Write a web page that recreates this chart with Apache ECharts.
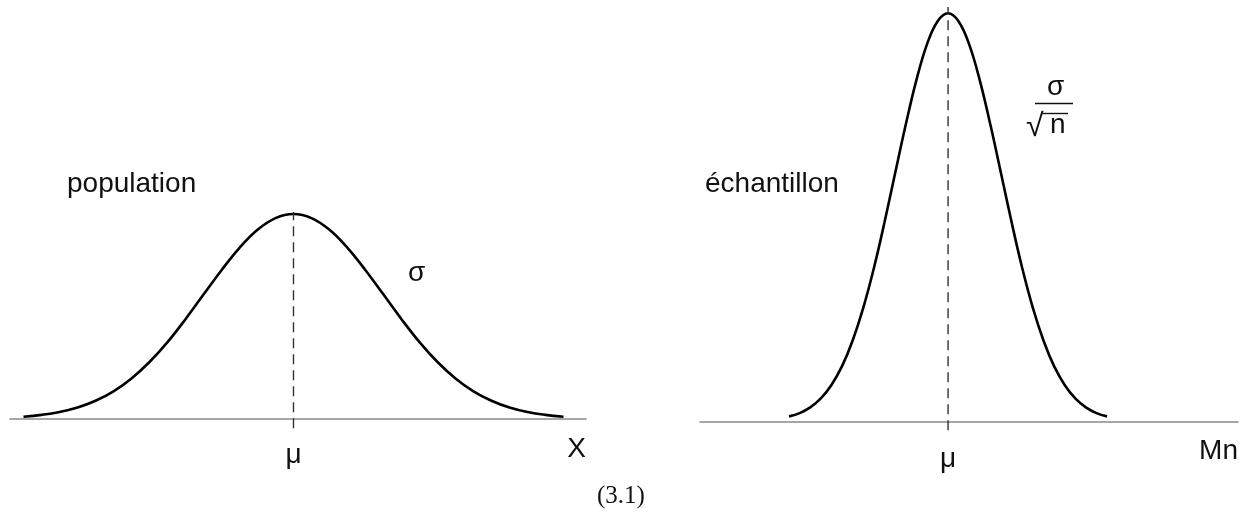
<!DOCTYPE html>
<html>
<head>
<meta charset="utf-8">
<script src="https://cdn.jsdelivr.net/npm/echarts@6/dist/echarts.min.js"></script>
<style>
  html, body { margin: 0; padding: 0; background: #ffffff; }
  #chart { width: 1244px; height: 519px; }
</style>
</head>
<body>
<div id="chart"></div>
<script>
// Population distribution: position in σ units around μ, relative height
const popX = [-3, -2.8, -2.6, -2.4, -2.2, -2, -1.8, -1.6, -1.4, -1.2, -1, -0.8, -0.6, -0.4, -0.2, 0,
              0.2, 0.4, 0.6, 0.8, 1, 1.2, 1.4, 1.6, 1.8, 2, 2.2, 2.4, 2.6, 2.8, 3];
const popY = [0.011, 0.02, 0.034, 0.056, 0.089, 0.135, 0.198, 0.278, 0.375, 0.487, 0.607, 0.726, 0.835, 0.923, 0.98, 1,
              0.98, 0.923, 0.835, 0.726, 0.607, 0.487, 0.375, 0.278, 0.198, 0.135, 0.089, 0.056, 0.034, 0.02, 0.011];

// Distribution of the sample mean: position in σ/√n units around μ, relative height
const sampleX = [-3, -2.8, -2.6, -2.4, -2.2, -2, -1.8, -1.6, -1.4, -1.2, -1, -0.8, -0.6, -0.4, -0.2, 0,
                 0.2, 0.4, 0.6, 0.8, 1, 1.2, 1.4, 1.6, 1.8, 2, 2.2, 2.4, 2.6, 2.8, 3];
const sampleY = [0.012, 0.02, 0.034, 0.056, 0.089, 0.135, 0.198, 0.278, 0.375, 0.487, 0.607, 0.726, 0.835, 0.923, 0.98, 1,
                 0.98, 0.923, 0.835, 0.726, 0.607, 0.487, 0.375, 0.278, 0.198, 0.135, 0.089, 0.056, 0.034, 0.02, 0.012];

// Mean marker (dashed vertical) extents for each panel
const meanLinePop = [-0.045, 1.01];
const meanLineSample = [-0.022, 1.015];

const tickLabels = ['μ'];
const axisNames = ['X', 'Mn'];
const panelTitles = ['population', 'échantillon'];
const spreadLabel = 'σ';
const equationTag = '(3.1)';

const SANS = '"Liberation Sans", Arial, Helvetica, sans-serif';
const SERIF = '"Liberation Serif", "Times New Roman", serif';

const zip = (xs, ys) => xs.map((x, i) => [x, ys[i]]);

function xAxisFor(idx, min, max) {
  return {
    type: 'value', gridIndex: idx, min: min, max: max,
    axisLine: { show: true, onZero: true, lineStyle: { color: '#8a8a8a', width: 1.6 } },
    axisTick: { show: false },
    splitLine: { show: false },
    axisLabel: {
      customValues: [0],
      formatter: () => tickLabels[0],
      fontFamily: SANS, fontSize: 28, color: '#111', margin: 12
    },
    name: axisNames[idx],
    nameLocation: 'end',
    nameGap: 0,
    nameTextStyle: {
      fontFamily: SANS, fontSize: 28, color: '#111',
      align: 'right', verticalAlign: 'top', padding: [16, 0, 0, 0]
    }
  };
}

function yAxisFor(idx, min, max) {
  return { type: 'value', gridIndex: idx, min: min, max: max, show: false };
}

const curveStyle = { color: '#000', width: 2.6 };
const dashStyle = { color: '#333', width: 1.4, type: [10, 6] };

const chart = echarts.init(document.getElementById('chart'), null, { renderer: 'canvas' });

chart.setOption({
  animation: false,
  backgroundColor: '#ffffff',
  grid: [
    { left: 10, top: 173, width: 576, height: 256.25 },
    { left: 700, top: 1, width: 538, height: 432.5 }
  ],
  xAxis: [xAxisFor(0, -3.15, 3.25), xAxisFor(1, -4.68, 5.47)],
  yAxis: [yAxisFor(0, -0.05, 1.2), yAxisFor(1, -0.03, 1.03)],
  series: [
    { type: 'line', xAxisIndex: 0, yAxisIndex: 0, data: zip(popX, popY),
      smooth: 0.4, symbol: 'none', lineStyle: curveStyle, clip: false, silent: true },
    { type: 'line', xAxisIndex: 0, yAxisIndex: 0, data: [[0, meanLinePop[0]], [0, meanLinePop[1]]],
      symbol: 'none', lineStyle: dashStyle, clip: false, silent: true },
    { type: 'line', xAxisIndex: 1, yAxisIndex: 1, data: zip(sampleX, sampleY),
      smooth: 0.4, symbol: 'none', lineStyle: curveStyle, clip: false, silent: true },
    { type: 'line', xAxisIndex: 1, yAxisIndex: 1, data: [[0, meanLineSample[0]], [0, meanLineSample[1]]],
      symbol: 'none', lineStyle: dashStyle, clip: false, silent: true }
  ],
  graphic: [
    { type: 'text', left: 67, top: 170,
      style: { text: panelTitles[0], font: '28px ' + SANS, fill: '#111' } },
    { type: 'text', left: 705, top: 170,
      style: { text: panelTitles[1], font: '28px ' + SANS, fill: '#111' } },
    { type: 'text', left: 408, top: 259,
      style: { text: spreadLabel, font: '28px ' + SANS, fill: '#111' } },
    // σ over √n
    { type: 'text', left: 1047, top: 73,
      style: { text: spreadLabel, font: '28px ' + SANS, fill: '#111' } },
    { type: 'line', shape: { x1: 1035, y1: 103.5, x2: 1073, y2: 103.5 },
      style: { stroke: '#111', lineWidth: 1.6 } },
    { type: 'text', left: 1026, top: 111,
      style: { text: '√', font: '32px ' + SANS, fill: '#111' } },
    { type: 'line', shape: { x1: 1041, y1: 113.5, x2: 1068, y2: 113.5 },
      style: { stroke: '#111', lineWidth: 1.4 } },
    { type: 'text', left: 1050, top: 111,
      style: { text: 'n', font: '28px ' + SANS, fill: '#111' } },
    { type: 'text', left: 597, top: 484,
      style: { text: equationTag, font: '25px ' + SERIF, fill: '#111' } }
  ]
});
</script>
</body>
</html>
